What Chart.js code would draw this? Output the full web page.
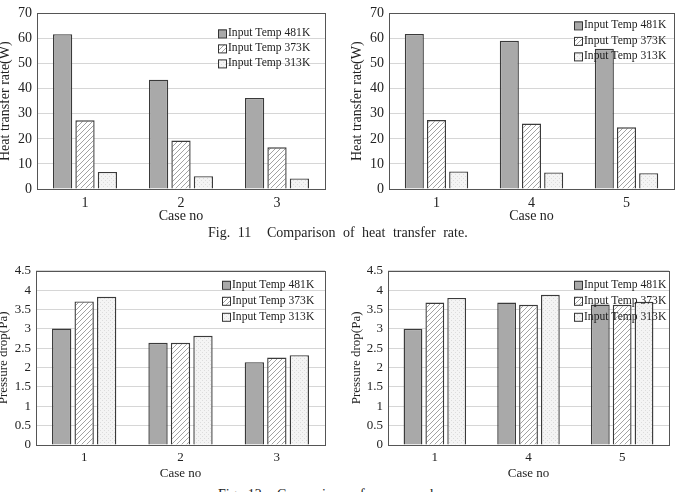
<!DOCTYPE html>
<html>
<head>
<meta charset="utf-8">
<script src="https://cdn.jsdelivr.net/npm/chart.js@4.4.0/dist/chart.umd.min.js"></script>
<style>
  html, body { margin: 0; padding: 0; background: #fff; }
  body { width: 682px; height: 492px; position: relative; overflow: hidden; font-family: 'Liberation Serif', 'Times New Roman', serif; }
  .box { position: absolute; }
  .cap { position: absolute; font-size: 14px; color: #222; word-spacing: 4px; white-space: pre; line-height: 16px; }
</style>
</head>
<body>
<div class="box" style="left:-11px;top:0;width:341px;height:226px"><canvas id="heatA"></canvas></div>
<div class="box" style="left:341px;top:0;width:341px;height:226px"><canvas id="heatB"></canvas></div>
<div class="box" style="left:-12px;top:258px;width:342px;height:224px"><canvas id="dropA"></canvas></div>
<div class="box" style="left:341px;top:258px;width:341px;height:224px"><canvas id="dropB"></canvas></div>
<div class="cap" style="left:208px;top:225px">Fig. 11</div>
<div class="cap" style="left:267px;top:225px">Comparison of heat transfer rate.</div>
<div class="cap" style="left:218px;top:487px">Fig. 12</div>
<div class="cap" style="left:277px;top:487px">Comparison of pressure drop.</div>

<script>
// series names and categories
const seriesNames = ['Input Temp 481K', 'Input Temp 373K', 'Input Temp 313K'];
const casesA = ['1', '2', '3'];
const casesB = ['1', '4', '5'];

// Fig. 11 heat transfer rate (W)
const heatA481 = [61.7, 43.6, 36.3];
const heatA373 = [27.4, 19.3, 16.6];
const heatA313 = [6.8, 5.1, 4.2];
const heatB481 = [61.8, 59.1, 55.9];
const heatB373 = [27.5, 26.1, 24.6];
const heatB313 = [7.0, 6.6, 6.3];

// Fig. 12 pressure drop (Pa)
const dropA481 = [3.01, 2.64, 2.14];
const dropA373 = [3.71, 2.64, 2.26];
const dropA313 = [3.83, 2.82, 2.32];
const dropB481 = [3.0, 3.68, 3.63];
const dropB373 = [3.68, 3.62, 3.62];
const dropB313 = [3.8, 3.88, 3.7];

// y axis ranges
const heatMax = 70, heatStep = 10;
const dropMax = 4.5, dropStep = 0.5;

const FONT = "'Liberation Serif', 'Times New Roman', serif";
const TEXT = '#222';

// fills: solid grey, hatched, stippled
function hatch() {
    const c = document.createElement('canvas');
    c.width = 5; c.height = 5;
    const g = c.getContext('2d');
    g.fillStyle = '#fff';
    g.fillRect(0, 0, 5, 5);
    g.strokeStyle = '#a2a2a2';
    g.lineWidth = 1;
    g.beginPath();
    g.moveTo(-1, 1); g.lineTo(1, -1);
    g.moveTo(0, 5); g.lineTo(5, 0);
    g.moveTo(4, 6); g.lineTo(6, 4);
    g.stroke();
    return g.createPattern(c, 'repeat');
}
function stipple() {
    const c = document.createElement('canvas');
    c.width = 4; c.height = 4;
    const g = c.getContext('2d');
    g.fillStyle = '#f4f4f4';
    g.fillRect(0, 0, 4, 4);
    g.fillStyle = '#dcdcdc';
    g.fillRect(0, 0, 1, 1);
    g.fillRect(2, 2, 1, 1);
    return g.createPattern(c, 'repeat');
}
const fills = ['#a9a9a9', hatch(), stipple()];

// frame round the plot area + legend drawn inside it
const framePlugin = {
    id: 'frame',
    afterDatasetsDraw(chart, args, opts) {
        const a = chart.chartArea;
        const ctx = chart.ctx;
        ctx.save();
        ctx.strokeStyle = '#555';
        ctx.lineWidth = 1;
        ctx.strokeRect(Math.round(a.left) + 0.5, Math.round(a.top) + 0.5,
            Math.round(a.right - a.left), Math.round(a.bottom - a.top));

        // legend
        ctx.font = opts.size + 'px ' + FONT;
        ctx.textBaseline = 'middle';
        chart.data.datasets.forEach((ds, i) => {
            const bx = a.right + opts.dx;
            const by = a.top + opts.dy + i * opts.gap;
            ctx.fillStyle = ds.backgroundColor;
            ctx.fillRect(bx, by - 4, 8, 8);
            ctx.strokeStyle = '#333';
            ctx.strokeRect(bx + 0.5, by - 3.5, 8, 8);
            ctx.fillStyle = TEXT;
            ctx.fillText(ds.label, bx + 10, by);
        });
        ctx.restore();
    }
};

function makeChart(id, cats, s1, s2, s3, yMax, yStep, yTitle, yWidth, fs, tickPad, pad, leg) {
    const vals = [s1, s2, s3];
    new Chart(document.getElementById(id), {
        type: 'bar',
        data: {
            labels: cats,
            datasets: vals.map((v, i) => ({
                label: seriesNames[i],
                data: v,
                backgroundColor: fills[i],
                borderColor: '#3a3a3a',
                borderWidth: 1.4,
                categoryPercentage: 0.7,
                barPercentage: 0.86
            }))
        },
        options: {
            responsive: true,
            maintainAspectRatio: false,
            animation: false,
            layout: { padding: pad },
            plugins: {
                legend: { display: false },
                tooltip: { enabled: false },
                frame: leg
            },
            scales: {
                x: {
                    grid: { display: false, drawTicks: false },
                    border: { display: false },
                    ticks: { color: TEXT, font: { family: FONT, size: fs }, padding: tickPad },
                    title: { display: true, text: 'Case no', color: TEXT, font: { family: FONT, size: fs }, padding: { top: 0, bottom: 1 } },
                    afterFit: s => { s.height = 37; }
                },
                y: {
                    min: 0,
                    max: yMax,
                    grid: { color: '#d6d6d6', drawTicks: false },
                    border: { display: false },
                    ticks: {
                        stepSize: yStep,
                        color: TEXT,
                        font: { family: FONT, size: fs },
                        padding: 5,
                        callback: v => String(Math.round(v * 10) / 10)
                    },
                    title: { display: true, text: yTitle, color: TEXT, font: { family: FONT, size: fs }, padding: { top: 8, bottom: 0 } },
                    afterFit: s => { s.width = yWidth; }
                }
            }
        },
        plugins: [framePlugin]
    });
}

makeChart('heatA', casesA, heatA481, heatA373, heatA313, heatMax, heatStep,
    'Heat transfer rate(W)', 48, 14, 6, { top: 11, right: 5, left: 0, bottom: 0 }, { dx: -107, dy: 20, gap: 15, size: 11.6 });
makeChart('heatB', casesB, heatB481, heatB373, heatB313, heatMax, heatStep,
    'Heat transfer rate(W)', 48, 14, 6, { top: 11, right: 8, left: 0, bottom: 0 }, { dx: -100, dy: 12, gap: 15.5, size: 11.6 });
makeChart('dropA', casesA, dropA481, dropA373, dropA313, dropMax, dropStep,
    'Pressure drop(Pa)', 48, 13, 5, { top: 11, right: 5, left: 0, bottom: 0 }, { dx: -103, dy: 14, gap: 16, size: 11.6 });
makeChart('dropB', casesB, dropB481, dropB373, dropB313, dropMax, dropStep,
    'Pressure drop(Pa)', 47, 13, 5, { top: 11, right: 13, left: 0, bottom: 0 }, { dx: -95, dy: 14, gap: 16, size: 11.6 });
</script>
</body>
</html>
